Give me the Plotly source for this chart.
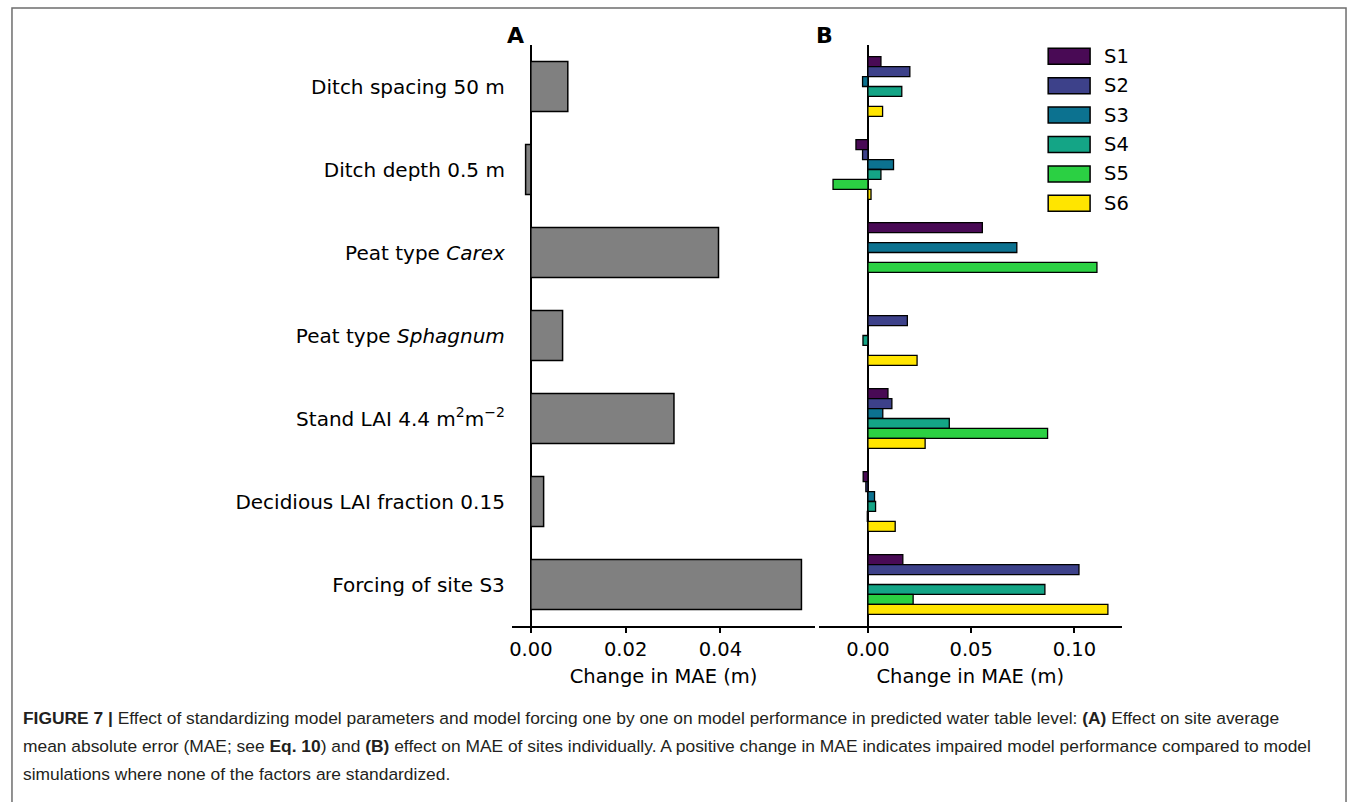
import plotly.graph_objects as go

# ---- data ----
factors = ["Ditch spacing 50 m", "Ditch depth 0.5 m", "Peat type <i>Carex</i>",
           "Peat type <i>Sphagnum</i>", "Stand LAI 4.4 m<sup>2</sup>m<sup>\u22122</sup>",
           "Decidious LAI fraction 0.15", "Forcing of site S3"]
avg_change = [0.0078, -0.0011, 0.0396, 0.0067, 0.0302, 0.0027, 0.0571]

sites = ["S1", "S2", "S3", "S4", "S5", "S6"]
S1 = [0.0063, -0.0058, 0.0554, 0.0, 0.0097, -0.0023, 0.0169]
S2 = [0.0203, -0.0026, 0.0, 0.0191, 0.0116, -0.0010, 0.1022]
S3 = [-0.0026, 0.0124, 0.0721, 0.0, 0.0072, 0.0032, 0.0]
S4 = [0.0164, 0.0063, 0.0, -0.0024, 0.0394, 0.0037, 0.0857]
S5 = [0.0, -0.0169, 0.1109, 0.0, 0.0870, -0.0003, 0.0219]
S6 = [0.0071, 0.0015, 0.0, 0.0238, 0.0277, 0.0132, 0.1162]
site_values = [S1, S2, S3, S4, S5, S6]
site_colors = ["#490a55", "#3d418a", "#0c7290", "#14a586", "#2bd043", "#ffe500"]

xticks_a = [0.00, 0.02, 0.04]
xticks_b = [0.00, 0.05, 0.10]
xlabel = "Change in MAE (m)"

W, H = 1355, 802
def px(x): return x / W
def py(y): return (H - y) / H

pos = list(range(len(factors)))
fig = go.Figure()

fig.add_trace(go.Bar(
    y=pos, x=avg_change, orientation="h", width=0.6, offset=-0.3,
    marker=dict(color="#808080", line=dict(color="black", width=1.5)),
    showlegend=False, xaxis="x", yaxis="y"))

bw = 0.12
for i, (name, vals, col) in enumerate(zip(sites, site_values, site_colors)):
    fig.add_trace(go.Bar(
        y=pos, x=vals, orientation="h", width=bw, offset=-0.36 + bw * i,
        marker=dict(color=col, line=dict(color="black", width=1.3)),
        name=name, showlegend=False, xaxis="x2", yaxis="y2"))

font_tick = dict(family="DejaVu Sans", size=19.5, color="black")
font_ylab = dict(family="DejaVu Sans", size=20, color="black")
common_x = dict(showgrid=False, showline=True, linecolor="black", linewidth=1.5,
                ticks="outside", ticklen=5, tickwidth=1.5, tickcolor="black",
                zeroline=True, zerolinecolor="black", zerolinewidth=1.5,
                tickfont=font_tick, tickformat=".2f",
                title=dict(text=xlabel, font=font_tick, standoff=9))

fig.update_layout(
    width=W, height=H, margin=dict(l=0, r=0, t=0, b=0),
    paper_bgcolor="white", plot_bgcolor="white", barmode="overlay",
    xaxis=dict(domain=[px(510), px(814)], range=[-0.0040, 0.0600],
               tickvals=xticks_a, anchor="y", **common_x),
    xaxis2=dict(domain=[px(818), px(1121)], range=[-0.0236, 0.1228],
                tickvals=xticks_b, anchor="y2", **common_x),
    yaxis=dict(domain=[py(626), py(45)], range=[6.5, -0.5], tickvals=pos,
               ticktext=factors, showgrid=False, showline=False, zeroline=False,
               ticks="", tickfont=font_ylab, ticklabelstandoff=6, anchor="x"),
    yaxis2=dict(domain=[py(626), py(45)], range=[6.5, -0.5], showgrid=False,
                showline=False, zeroline=False, showticklabels=False, ticks="",
                anchor="x2"),
)

shapes = []
annotations = []
# panel labels
for lab, xc in [("A", 514), ("B", 823)]:
    annotations.append(dict(x=px(xc), y=py(35), xref="paper", yref="paper",
                            text="<b>%s</b>" % lab, showarrow=False,
                            font=dict(family="DejaVu Sans", size=22, color="black"),
                            xanchor="center", yanchor="middle"))
# legend
for i, (name, col) in enumerate(zip(sites, site_colors)):
    yc = 56.3 + 29.4 * i
    shapes.append(dict(type="rect", xref="paper", yref="paper",
                       x0=px(1047.5), x1=px(1089.5), y0=py(yc + 8), y1=py(yc - 8),
                       fillcolor=col, line=dict(color="black", width=1.5)))
    annotations.append(dict(x=px(1101), y=py(yc), xref="paper", yref="paper",
                            text=name, showarrow=False, xanchor="left", yanchor="middle",
                            font=dict(family="DejaVu Sans", size=19.5, color="black")))
# frame
shapes.append(dict(type="rect", xref="paper", yref="paper",
                   x0=px(9), x1=px(1346), y0=-0.02, y1=py(8),
                   line=dict(color="#6e6e6e", width=1.5), fillcolor="rgba(0,0,0,0)"))
# caption
cap_lines = [
    "<b>FIGURE 7 |</b> Effect of standardizing model parameters and model forcing one by one on model performance in predicted water table level: <b>(A)</b> Effect on site average",
    "mean absolute error (MAE; see <b>Eq. 10</b>) and <b>(B)</b> effect on MAE of sites individually. A positive change in MAE indicates impaired model performance compared to model",
    "simulations where none of the factors are standardized.",
]
for i, line in enumerate(cap_lines):
    annotations.append(dict(x=px(18), y=py(718 + 28 * i), xref="paper", yref="paper",
                            text=line, showarrow=False, xanchor="left", yanchor="middle",
                            font=dict(family="Liberation Sans, Arial",
                                      size=17.4, color="#231f20")))
fig.update_layout(shapes=shapes, annotations=annotations)

fig.write_html("out.html", config={"displayModeBar": False},
               post_script="document.body.style.margin='0';document.body.style.overflow='hidden';")
